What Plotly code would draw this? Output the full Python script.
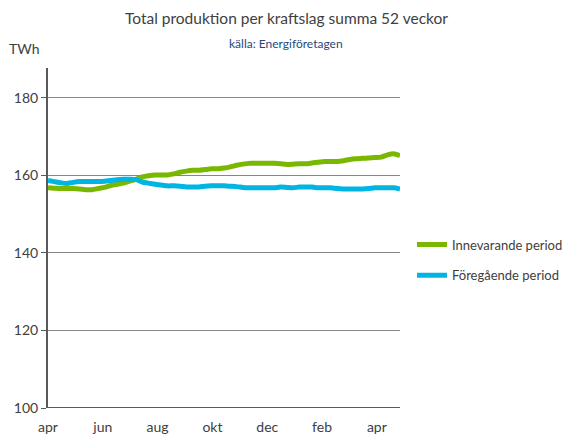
import plotly.graph_objects as go

weeks = list(range(57))
innevarande = [156.8, 156.7, 156.6, 156.6, 156.6, 156.5, 156.3, 156.3, 156.6, 156.9,
               157.4, 157.7, 158.0, 158.5, 159.0, 159.6, 159.9, 160.1, 160.1, 160.1,
               160.4, 160.8, 161.1, 161.3, 161.3, 161.5, 161.7, 161.7, 161.9, 162.2,
               162.6, 162.9, 163.1, 163.1, 163.1, 163.1, 163.1, 163.0, 162.8, 162.9,
               163.0, 163.0, 163.2, 163.4, 163.6, 163.6, 163.6, 163.8, 164.1, 164.3,
               164.4, 164.5, 164.6, 164.7, 165.3, 165.6, 165.1]
foregaende = [158.7, 158.4, 158.1, 157.9, 158.2, 158.4, 158.4, 158.4, 158.4, 158.5,
              158.7, 158.9, 159.0, 159.0, 158.9, 158.3, 158.0, 157.7, 157.5, 157.3,
              157.3, 157.2, 157.0, 157.0, 157.0, 157.2, 157.3, 157.3, 157.3, 157.2,
              157.1, 156.9, 156.8, 156.8, 156.8, 156.8, 156.8, 157.0, 156.9, 156.8,
              157.0, 157.0, 157.0, 156.8, 156.8, 156.8, 156.6, 156.5, 156.5, 156.5,
              156.5, 156.6, 156.8, 156.8, 156.8, 156.8, 156.5]
tick_pos = [0, 8.72, 17.44, 26.16, 34.88, 43.6, 52.32]
tick_labels = ["apr", "jun", "aug", "okt", "dec", "feb", "apr"]
y_ticks = [100, 120, 140, 160, 180]

W, H = 571, 436
L, R, T, B = 48, 171, 68, 28
pw, ph = W - L - R, H - T - B
def px(x): return (x - L) / pw
def py(y): return (H - B - y) / ph

font = "Lato, 'Open Sans', sans-serif"
fig = go.Figure()
fig.add_trace(go.Scatter(x=weeks, y=innevarande, mode="lines", name="Innevarande period",
                         legendgroup="a", line=dict(color="#7AB800", width=5, shape="spline", smoothing=0.6)))
fig.add_trace(go.Scatter(x=weeks, y=foregaende, mode="lines", name="Föregående period",
                         legendgroup="b", line=dict(color="#00B5E2", width=5, shape="spline", smoothing=0.6)))

fig.update_layout(
    width=W, height=H,
    margin=dict(l=L, r=R, t=T, b=B, autoexpand=False),
    paper_bgcolor="white", plot_bgcolor="white",
    font=dict(family=font, color="#404040", size=14),
    showlegend=True,
    legend=dict(x=px(412), y=py(260), xanchor="left", yanchor="middle",
                font=dict(size=13, color="#404040"), tracegroupgap=11,
                itemwidth=30, bgcolor="rgba(0,0,0,0)"),
    xaxis=dict(range=[0, 56], tickmode="array", tickvals=tick_pos, ticktext=tick_labels,
               showgrid=False, zeroline=False, showline=False, ticks="",
               ticklabelstandoff=9,
               tickfont=dict(size=14, color="#404040"), fixedrange=True),
    yaxis=dict(range=[100, 187.7], tickmode="array", tickvals=y_ticks,
               showgrid=True, gridcolor="#868686", gridwidth=1, zeroline=False,
               showline=True, linecolor="#595959", linewidth=2,
               ticks="outside", ticklen=5, tickcolor="#595959", tickwidth=1,
               tickfont=dict(size=14, color="#404040"), fixedrange=True),
    annotations=[
        dict(text="Total produktion per kraftslag summa 52 veckor", x=px(286), y=py(18),
             xref="paper", yref="paper", xanchor="center", yanchor="middle",
             showarrow=False, font=dict(size=15.5, color="#404040")),
        dict(text="källa: Energiföretagen", x=px(286), y=py(43),
             xref="paper", yref="paper", xanchor="center", yanchor="middle",
             showarrow=False, font=dict(size=12, color="#1F497D")),
        dict(text="TWh", x=px(24), y=py(48),
             xref="paper", yref="paper", xanchor="center", yanchor="middle",
             showarrow=False, font=dict(size=14, color="#404040")),
    ],
)
fig.add_shape(type="line", xref="paper", yref="y", x0=0, x1=1, y0=100, y1=100,
              line=dict(color="#595959", width=2))
fig.write_html("out.html", config={"displayModeBar": False},
               post_script="document.body.style.margin='0';document.body.style.overflow='hidden';")
